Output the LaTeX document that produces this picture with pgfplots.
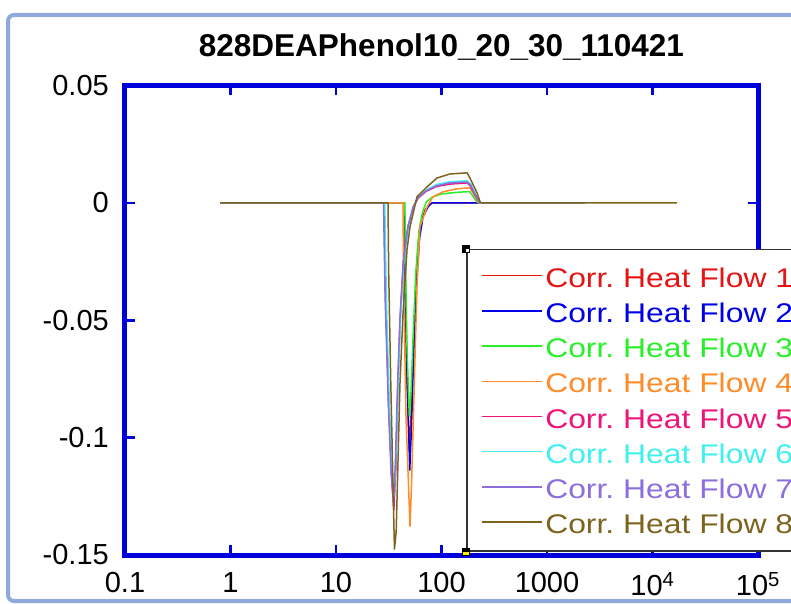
\documentclass[border=0pt]{standalone}
\usepackage{pgfplots}
\pgfplotsset{compat=1.18}
\usetikzlibrary{calc}
\usepackage{fontspec}
\setmainfont{Liberation Sans}
\newfontfamily\legfont[FakeStretch=1.18]{Liberation Sans}
\frenchspacing
\definecolor{mblue}{RGB}{0,0,220}
\definecolor{framecol}{RGB}{143,169,220}
\definecolor{c1}{RGB}{230,20,20}
\definecolor{c2}{RGB}{0,0,230}
\definecolor{c3}{RGB}{40,240,40}
\definecolor{c4}{RGB}{255,140,40}
\definecolor{c5}{RGB}{240,20,120}
\definecolor{c6}{RGB}{64,240,240}
\definecolor{c7}{RGB}{140,110,220}
\definecolor{c8}{RGB}{125,100,30}
\begin{document}
\begin{tikzpicture}[x=1pt,y=1pt]
\useasboundingbox (0,0) rectangle (791,603);
\draw[framecol, line width=4pt, rounded corners=6pt] (8,2) rectangle (840,588);
\begin{axis}[
  at={(125pt,48pt)}, anchor=south west,
  width=633pt, height=469.5pt, scale only axis,
  xmode=log, xmin=0.1, xmax=1e5, ymin=-0.15, ymax=0.05,
  xtick={0.1,1,10,100,1000,10000,100000},
  xticklabels={0.1,1,10,100,1000,10\textsuperscript{4},10\textsuperscript{5}},
  ytick={-0.15,-0.1,-0.05,0,0.05},
  yticklabels={-0.15,-0.1,-0.05,0,0.05},
  minor x tick num=0, xminorticks=false,
  axis line style={draw=mblue, line width=5pt},
  tick style={draw=mblue, line width=2.5pt},
  major tick length=10pt, tick align=inside,
  ticklabel style={font=\fontsize{29}{30}\selectfont, inner sep=0pt},
  xticklabel style={yshift=-17pt},
  yticklabel style={xshift=-16pt},
  title={828DEAPhenol10\_20\_30\_110421},
  title style={font=\fontsize{31.5}{32}\selectfont\bfseries, at={(0.5,1)}, anchor=base, yshift=23pt},
  legend style={name=leg, at={(0.5387,0.6518)}, anchor=north west, draw=black!80, line width=1.5pt, fill=white,
    inner xsep=14pt, inner ysep=13.5pt, row sep=7.2pt, column sep=3pt,
    font=\legfont\fontsize{27}{30}\selectfont,
    nodes={inner sep=0pt, text height=24pt, text depth=4pt}},
  legend cell align=left,
  legend image code/.code={\draw[#1, line width=1.5pt] (0pt,1.5pt) -- (60pt,1.5pt);},
  every axis plot/.append style={line width=1.5pt},
]
\addplot[c1] coordinates {(0.8,0)(44.0,0)(44.5,-0.02)(46.5,-0.07)(49.5,-0.105)(51.5,-0.09)(54,-0.06)(57,-0.035)(60,-0.018)(64,-0.008)(70,-0.003)(78,-0.0005)(82,0)(2000,0)};
\addlegendentry{\textcolor{c1}{Corr. Heat Flow 1}}
\addplot[c2] coordinates {(0.8,0)(44.5,0)(45,-0.02)(47,-0.07)(50,-0.114)(52,-0.095)(55,-0.06)(58.5,-0.032)(62,-0.015)(66.8,-0.006)(74.5,-0.0017)(81.3,0)(2200,0)};
\addlegendentry{\textcolor{c2}{Corr. Heat Flow 2}}
\addplot[c3] coordinates {(0.8,0)(45,0)(45.3,-0.02)(47,-0.06)(49.5,-0.091)(51.5,-0.08)(54,-0.055)(57,-0.03)(61,-0.012)(66,-0.004)(72,0.0005)(82,0.0025)(100,0.0038)(140,0.0045)(185,0.0048)(198,0.003)(215,0.0005)(225,0)(1800,0)};
\addlegendentry{\textcolor{c3}{Corr. Heat Flow 3}}
\addplot[c4] coordinates {(0.8,0)(43.2,0)(43.6,-0.03)(46,-0.09)(50.3,-0.1379)(52,-0.12)(55,-0.08)(58.6,-0.035)(62.5,-0.0102)(72.9,-0.0017)(83,0.0026)(103,0.0047)(140,0.006)(186,0.0064)(199,0.0043)(222,0.0004)(230,0)(2300,0)};
\addlegendentry{\textcolor{c4}{Corr. Heat Flow 4}}
\addplot[c5] coordinates {(0.8,0)(28.5,0)(29.5,-0.04)(31.5,-0.085)(33.5,-0.115)(35.3,-0.131)(36.8,-0.115)(38.5,-0.08)(40.5,-0.05)(43.5,-0.025)(48,-0.01)(54,-0.002)(60,0.002)(72,0.005)(90,0.007)(120,0.008)(175,0.0085)(186,0.0075)(210,0.003)(228,0.0003)(235,0)(2300,0)};
\addlegendentry{\textcolor{c5}{Corr. Heat Flow 5}}
\addplot[c6] coordinates {(0.8,0)(29,0)(30,-0.04)(32,-0.085)(34,-0.115)(35.6,-0.125)(37.2,-0.105)(39,-0.075)(41,-0.048)(44,-0.025)(48.5,-0.01)(54,-0.0015)(60,0.0025)(72,0.0055)(90,0.0078)(120,0.0090)(175,0.0094)(188,0.0082)(212,0.0035)(229,0.0003)(236,0)(2300,0)};
\addlegendentry{\textcolor{c6}{Corr. Heat Flow 6}}
\addplot[c7] coordinates {(0.8,0)(28.2,0)(29.2,-0.04)(31.3,-0.085)(33.3,-0.115)(35.1,-0.128)(36.6,-0.11)(38.3,-0.078)(40.3,-0.05)(43.3,-0.026)(47.8,-0.011)(53.5,-0.002)(60,0.0022)(72,0.0052)(90,0.0073)(120,0.0085)(175,0.0089)(187,0.0078)(211,0.0032)(228,0.0003)(235,0)(2300,0)};
\addlegendentry{\textcolor{c7}{Corr. Heat Flow 7}}
\addplot[c8] coordinates {(0.8,0)(31.1,0)(31.6,-0.03)(33,-0.075)(34.5,-0.115)(35.8,-0.1477)(37.2,-0.14)(38.7,-0.11)(40.4,-0.077)(43.2,-0.047)(47.1,-0.020)(50.3,-0.0102)(58.6,0.0026)(72.9,0.0068)(90.6,0.0106)(120,0.0123)(175,0.0128)(186,0.0106)(217,0.0043)(232,0.0004)(240,0)(17060,0)};
\addlegendentry{\textcolor{c8}{Corr. Heat Flow 8}}
\end{axis}
\fill[black] ($(leg.north west)+(-4,-4)$) rectangle ++(8,8);
\fill[white] ($(leg.north west)+(0,-3)$) rectangle ++(3,3);
\fill[black] ($(leg.south west)+(-4,-4)$) rectangle ++(8,8);
\fill[yellow] ($(leg.south west)+(-3,-3)$) rectangle ++(6,3);
\end{tikzpicture}
\end{document}
